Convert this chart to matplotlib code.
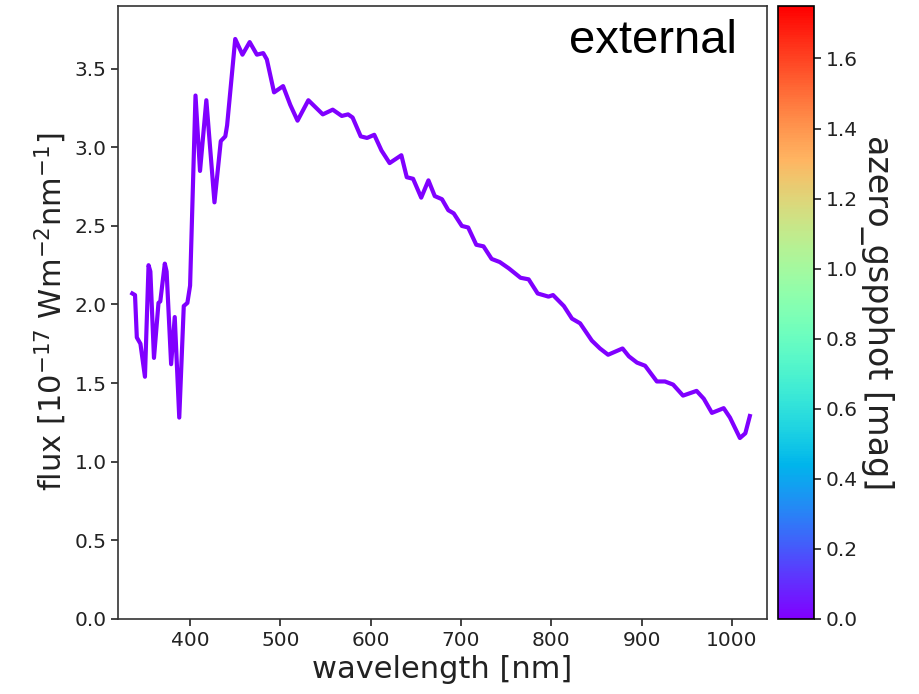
import matplotlib
matplotlib.use('Agg')
import matplotlib.pyplot as plt
from matplotlib import cm, colors

wavelength = [336, 339, 341, 345, 350, 354, 356, 360, 365, 367, 372, 374, 379, 383,
              388, 393, 397, 400, 406, 411, 418, 427, 434, 439, 441, 450, 458, 466,
              474, 481, 485, 493, 503, 511, 519, 531, 547, 558, 568, 575, 580, 589,
              596, 604, 612, 621, 634, 640, 647, 656, 664, 671, 679, 686, 692, 701,
              708, 717, 725, 734, 743, 753, 766, 775, 785, 797, 802, 814, 823, 832,
              845, 854, 863, 871, 879, 886, 895, 904, 917, 926, 935, 946, 961, 969,
              978, 991, 998, 1009, 1015, 1020]
flux = [2.07, 2.06, 1.79, 1.75, 1.54, 2.25, 2.21, 1.66, 2.01, 2.02, 2.26, 2.21, 1.62, 1.92,
        1.28, 1.99, 2.01, 2.12, 3.33, 2.85, 3.30, 2.65, 3.04, 3.07, 3.14, 3.69, 3.59, 3.67,
        3.59, 3.60, 3.56, 3.35, 3.39, 3.27, 3.17, 3.30, 3.21, 3.24, 3.20, 3.21, 3.19, 3.07,
        3.06, 3.08, 2.98, 2.90, 2.95, 2.81, 2.80, 2.68, 2.79, 2.69, 2.67, 2.60, 2.58, 2.50,
        2.49, 2.38, 2.37, 2.29, 2.27, 2.23, 2.17, 2.16, 2.07, 2.05, 2.06, 1.99, 1.91, 1.88,
        1.77, 1.72, 1.68, 1.70, 1.72, 1.67, 1.63, 1.61, 1.51, 1.51, 1.49, 1.42, 1.45, 1.40,
        1.31, 1.34, 1.28, 1.15, 1.18, 1.29]
azero = 0.0
azero_max = 1.75

cmap = plt.get_cmap('rainbow')
norm = colors.Normalize(vmin=0, vmax=azero_max)

fig = plt.figure(figsize=(9.2, 6.94), dpi=100)
ax = fig.add_axes([0.1286, 0.1085, 0.7046, 0.8829])
cax = fig.add_axes([0.8457, 0.1085, 0.0386, 0.8829])

ax.plot(wavelength, flux, color=cmap(norm(azero)), lw=3, solid_joinstyle='round')
ax.set_xlim(320.5, 1038.5)
ax.set_ylim(0, 3.9)
ax.set_xticks([400, 500, 600, 700, 800, 900, 1000])
ax.set_yticks([0, 0.5, 1.0, 1.5, 2.0, 2.5, 3.0, 3.5])
ax.tick_params(labelsize=14.5, length=5, width=1.2, colors='#222222')
for s in ax.spines.values():
    s.set_linewidth(1.2)
    s.set_color('#333333')
ax.set_xlabel('wavelength [nm]', fontsize=22, color='#222222')
ax.set_ylabel(r'flux [10$^{-17}$ Wm$^{-2}$nm$^{-1}$]', fontsize=22, color='#222222')
ax.text(0.9545, 0.923, 'external', transform=ax.transAxes, ha='right', va='baseline',
        fontsize=34, family='Liberation Sans')

sm = cm.ScalarMappable(norm=norm, cmap=cmap)
cb = fig.colorbar(sm, cax=cax)
cb.set_ticks([0, 0.2, 0.4, 0.6, 0.8, 1.0, 1.2, 1.4, 1.6])
cb.ax.tick_params(labelsize=14.5, length=5, width=1.2, colors='#222222')
cb.outline.set_linewidth(1.2)
cb.set_label('azero_gspphot [mag]', fontsize=24, rotation=270, labelpad=26, color='#222222')

fig.savefig('out.png')
